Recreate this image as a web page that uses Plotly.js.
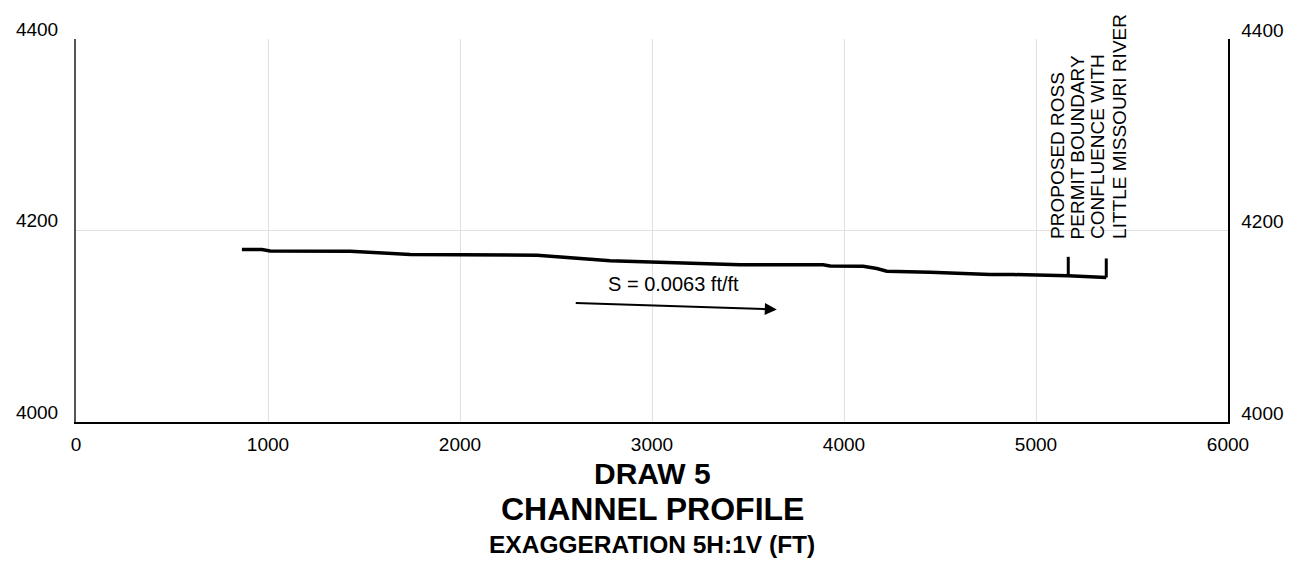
<!DOCTYPE html>
<html>
<head>
<meta charset="utf-8">
<script src="https://cdn.plot.ly/plotly-3.0.1.min.js"></script>
<style>html,body{margin:0;padding:0;background:#fff;}#chart{width:1306px;height:571px;}</style>
</head>
<body>
<div id="chart"></div>
<script>
// Channel profile: station (ft) and bed elevation (ft)
const station = [864, 968, 1011, 1428, 1741, 2157, 2402, 2782, 2999, 3459, 3891, 3928, 4100, 4171, 4223, 4449, 4761, 4882, 5168, 5366];
const elevation = [4180.2, 4180.2, 4178.7, 4178.4, 4175.0, 4174.5, 4174.2, 4168.3, 4167.2, 4164.1, 4164.1, 4163.0, 4162.7, 4160.3, 4157.5, 4156.5, 4154.0, 4154.0, 4152.8, 4150.9];

// Location markers (vertical ticks)
const markerStation = [5168, 5366];
const markerBase = [4152.8, 4150.9];
const markerTop = [4172.5, 4170.8];
const markerLabels = [["PROPOSED ROSS", "PERMIT BOUNDARY"], ["CONFLUENCE WITH", "LITTLE MISSOURI RIVER"]];

// Slope arrow
const slopeText = "S = 0.0063 ft/ft";
const arrowStart = [2595, 4124.4];
const arrowEnd = [3650, 4117.5];

const xTicks = [0, 1000, 2000, 3000, 4000, 5000, 6000];
const yTicks = [4000, 4200, 4400];

const titleLines = ["DRAW 5", "CHANNEL PROFILE", "EXAGGERATION 5H:1V (FT)"];

const FONT = "Liberation Sans, Arial, Helvetica, sans-serif";

const traces = [{
  x: station, y: elevation, type: 'scatter', mode: 'lines',
  line: {color: '#000', width: 3.5}, hoverinfo: 'skip', showlegend: false
}];
markerStation.forEach((s, i) => {
  traces.push({
    x: [s, s], y: [markerBase[i], markerTop[i]], type: 'scatter', mode: 'lines',
    line: {color: '#000', width: 3}, hoverinfo: 'skip', showlegend: false
  });
});
traces.push({x: [0], y: [4000], yaxis: 'y2', mode: 'markers', marker: {opacity: 0}, hoverinfo: 'skip', showlegend: false});

const annotations = [];
// vertical labels: one column per line
const labelOffsets = [[-11, 9], [-9, 13]];
markerStation.forEach((s, i) => {
  markerLabels[i].forEach((t, j) => {
    annotations.push({
      x: s, y: 4192, xref: 'x', yref: 'y', text: t, showarrow: false,
      textangle: -90, xanchor: 'center', yanchor: 'bottom', xshift: labelOffsets[i][j], yshift: -3,
      font: {family: FONT, size: 19, color: '#000'}
    });
  });
});
annotations.push({
  x: (arrowStart[0] + arrowEnd[0]) / 2, y: 4145, xref: 'x', yref: 'y', text: slopeText,
  showarrow: false, xshift: -2, yshift: -1, font: {family: FONT, size: 20, color: '#000'}
});
annotations.push({
  x: arrowEnd[0], y: arrowEnd[1], ax: arrowStart[0], ay: arrowStart[1],
  xref: 'x', yref: 'y', axref: 'x', ayref: 'y', text: '', showarrow: true,
  arrowhead: 2, arrowsize: 1.2, arrowwidth: 2, arrowcolor: '#000'
});
const titleSizes = [30, 32, 24.5];
const titleShifts = [-51, -87, -122];
titleLines.forEach((t, i) => {
  annotations.push({
    x: 0.5, y: 0, xref: 'paper', yref: 'paper', yshift: titleShifts[i], text: '<b>' + t + '</b>',
    showarrow: false, xanchor: 'center', yanchor: 'middle',
    font: {family: FONT, size: titleSizes[i], color: '#000'}
  });
});

const layout = {
  width: 1306, height: 571,
  margin: {l: 76, r: 78, t: 39, b: 149},
  paper_bgcolor: '#fff', plot_bgcolor: '#fff',
  showlegend: false,
  xaxis: {
    range: [0, 6000], tickvals: xTicks, ticktext: xTicks.map(String),
    showgrid: true, gridcolor: '#e1e1e1', gridwidth: 1, zeroline: false,
    showline: true, linecolor: '#000', linewidth: 2, ticks: '',
    tickfont: {family: FONT, size: 19, color: '#000'}, ticklabelstandoff: 4
  },
  yaxis: {
    range: [4000, 4400], tickvals: yTicks, ticktext: yTicks.map(String),
    showgrid: true, gridcolor: '#e1e1e1', gridwidth: 1, zeroline: false,
    showline: true, linecolor: '#555', linewidth: 2, ticks: '',
    tickfont: {family: FONT, size: 19, color: '#000'}, ticklabelshift: -10, ticklabelstandoff: 12
  },
  yaxis2: {
    range: [4000, 4400], overlaying: 'y', side: 'right', tickvals: yTicks, ticktext: yTicks.map(String),
    showgrid: false, zeroline: false, showline: true, linecolor: '#000', linewidth: 1.5, ticks: '',
    tickfont: {family: FONT, size: 19, color: '#000'}, ticklabelshift: -9, ticklabelstandoff: 8
  },
  annotations: annotations
};

Plotly.newPlot('chart', traces, layout, {staticPlot: true, displayModeBar: false});
</script>
</body>
</html>
